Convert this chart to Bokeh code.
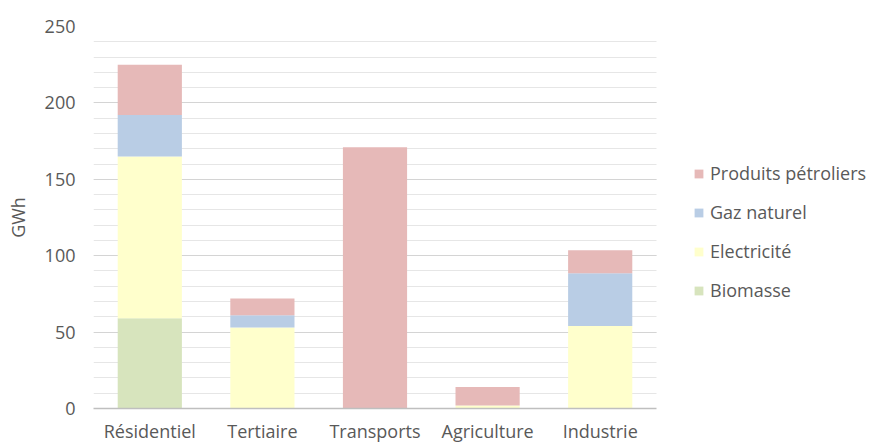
from bokeh.plotting import figure
from bokeh.models import (Range1d, FixedTicker, Legend, LegendItem, ColumnDataSource)
from bokeh.embed import file_html
from bokeh.resources import INLINE

# ---- data ----
categories = ["Résidentiel", "Tertiaire", "Transports", "Agriculture", "Industrie"]
biomasse = [59, 0, 0, 0, 0]
electricite = [106, 53, 0, 2, 54]
gaz_naturel = [27, 8, 0, 0, 34.5]
produits_petroliers = [33, 11, 171, 12, 15]
series_names = ["Biomasse", "Electricité", "Gaz naturel", "Produits pétroliers"]
series_keys = ["bio", "elec", "gaz", "pet"]
y_ticks = [0, 50, 100, 150, 200, 250]
y_minor = list(range(0, 251, 10))

colors = ["#D7E4BD", "#FFFFCC", "#B9CDE5", "#E6B9B8"]
FONT = "Open Sans"
TXT = "#595959"

n = len(categories)
xpos = list(range(n))
source = ColumnDataSource(data=dict(x=xpos, cat=categories, bio=biomasse, elec=electricite,
                                    gaz=gaz_naturel, pet=produits_petroliers))

# plot area: 93..656 px holds the 5 categories; frame extends to the right edge for the legend
W, H = 870, 445
left_px, area_right_px = 93, 656
unit = (area_right_px - left_px) / n
x_end = -0.5 + (W - left_px) / unit

p = figure(width=W, height=H, x_range=Range1d(-0.5, x_end),
           y_range=Range1d(0, 250), output_backend="svg", toolbar_location=None,
           title=None, min_border_left=left_px, min_border_right=0,
           min_border_top=26, min_border_bottom=35)
p.outline_line_color = None
p.background_fill_color = "white"
p.border_fill_color = "white"

renderers = p.vbar_stack(series_keys, x="x", width=0.57, source=source,
                         fill_color=colors, line_color=None)

# y axis
p.yaxis.ticker = FixedTicker(ticks=y_ticks, minor_ticks=y_minor)
p.yaxis.axis_line_color = None
p.yaxis.major_tick_line_color = None
p.yaxis.minor_tick_line_color = None
p.yaxis.major_tick_out = 0
p.yaxis.minor_tick_out = 0
p.yaxis.major_label_standoff = 18
p.yaxis.major_label_text_font = FONT
p.yaxis.major_label_text_font_size = "18px"
p.yaxis.major_label_text_color = TXT
p.yaxis.axis_label = "GWh"
p.yaxis.axis_label_text_font = FONT
p.yaxis.axis_label_text_font_size = "18px"
p.yaxis.axis_label_text_font_style = "normal"
p.yaxis.axis_label_text_color = TXT
p.yaxis.axis_label_standoff = 12

# x axis (category labels)
p.xaxis.ticker = FixedTicker(ticks=xpos, minor_ticks=[])
p.xaxis.major_label_overrides = {i: c for i, c in zip(xpos, categories)}
p.xaxis.bounds = (-0.5, n - 0.5)
p.xaxis.axis_line_color = "#bfbfbf"
p.xaxis.axis_line_width = 1.5
p.xaxis.major_tick_line_color = None
p.xaxis.minor_tick_line_color = None
p.xaxis.major_tick_out = 0
p.xaxis.major_tick_in = 0
p.xaxis.major_label_standoff = 10
p.xaxis.major_label_text_font = FONT
p.xaxis.major_label_text_font_size = "18px"
p.xaxis.major_label_text_color = TXT

p.xgrid.grid_line_color = None
p.ygrid.grid_line_color = "#d4d4d4"
p.ygrid.minor_grid_line_color = "#e6e6e6"
p.ygrid.cross_bounds = (-0.5, n - 0.5)

items = [LegendItem(label=series_names[i], renderers=[renderers[i]]) for i in range(3, -1, -1)]
legend = Legend(items=items, location=(600, 106), glyph_width=11, glyph_height=11,
                label_text_font_size="18px", label_text_color=TXT, label_standoff=6,
                label_height=24, spacing=15, padding=0, margin=0,
                border_line_alpha=0, background_fill_alpha=0)
legend.label_text_font = FONT
p.add_layout(legend)

open("out.html", "w").write(file_html(p, INLINE))
